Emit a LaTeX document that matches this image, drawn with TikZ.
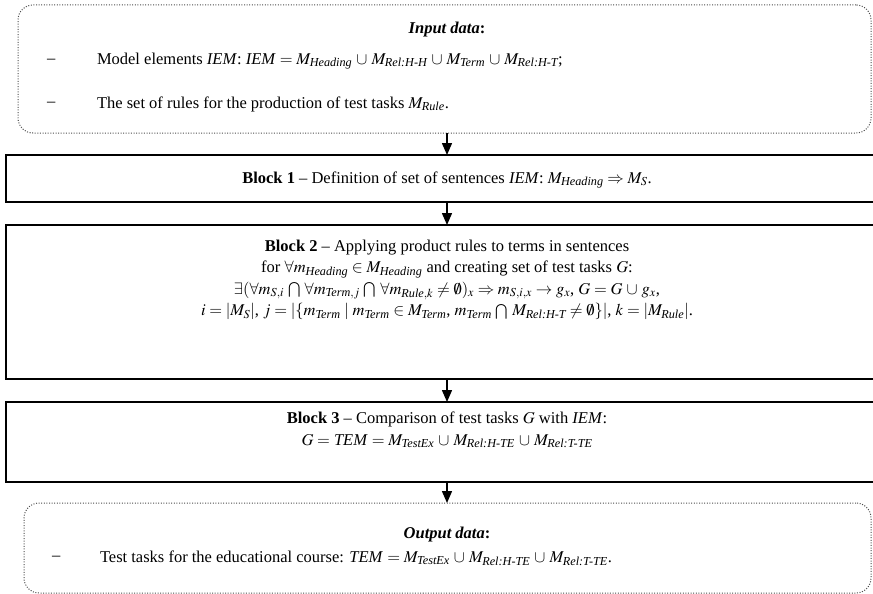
\documentclass[tikz,border=0pt]{standalone}
\usepackage{amsmath}
\usepackage{mathptmx}
\usepackage{fontspec}
\setmainfont{Liberation Serif}
\usetikzlibrary{arrows.meta}
\newcommand{\sub}[1]{\textit{#1}}
\newcommand{\un}{\mathbin{\,\cup\,}}
\newcommand{\bcap}{\mathbin{\,\bigcap\,}}
\begin{document}
\begin{tikzpicture}[x=1pt,y=-1pt,
  every node/.style={font=\fontsize{16.5}{21.5}\selectfont, inner sep=0pt, outer sep=0pt},
  databox/.style={draw=black!70, line width=1pt, dash pattern=on 1pt off 1.6pt, rounded corners=15pt},
  blockbox/.style={draw=black, line width=2.6pt},
  txt/.style={align=center},
  flow/.style={line width=1.5pt, -{Triangle[length=12pt,width=10pt]}}]
\useasboundingbox (0,0) rectangle (873,594);
% boxes
\node[databox, minimum width=853pt, minimum height=128pt] (inp) at (444.5,69) {};
\node[blockbox, minimum width=882pt, minimum height=47pt] (b1) at (447,178.5) {};
\node[blockbox, minimum width=882pt, minimum height=154pt] (b2) at (447,302) {};
\node[blockbox, minimum width=882pt, minimum height=80pt] (b3) at (447,442) {};
\node[databox, minimum width=847pt, minimum height=90pt] (out) at (447.5,548) {};
% input text
\node (inT) at (447,30) {\textbf{\textit{Input data}:}};
\node[anchor=west] (inD1) at (47,61) {--};
\node[anchor=west] (inL1) at (97,61) {Model elements \textit{IEM}: \textit{IEM} $= M_{\sub{Heading}} \un M_{\sub{Rel:H-H}} \un M_{\sub{Term}} \un M_{\sub{Rel:H-T}}$;};
\node[anchor=west] (inD2) at (47,104) {--};
\node[anchor=west] (inL2) at (97,104) {The set of rules for the production of test tasks $M_{\sub{Rule}}$.};
% block texts
\node[txt] (t1) at (447,180) {\textbf{Block 1} -- Definition of set of sentences \textit{IEM}: $M_{\sub{Heading}} \Rightarrow M_{S}$.};
\node[txt] (t2) at (447,280) {\textbf{Block 2} -- Applying product rules to terms in sentences\\
for $\forall m_{\sub{Heading}} \in M_{\sub{Heading}}$ and creating set of test tasks $G$:\\
$\exists(\forall m_{S,i} \bcap \forall m_{\sub{Term},j} \bcap \forall m_{\sub{Rule},k} \neq \emptyset)_x \Rightarrow m_{S,i,x} \rightarrow g_x$, $G = G \un g_x$,\\
$i = |M_S|$, $j = |\{m_{\sub{Term}} \mid m_{\sub{Term}} \in M_{\sub{Term}}$, $m_{\sub{Term}} \bcap M_{\sub{Rel:H-T}} \neq \emptyset\}|$, $k = |M_{\sub{Rule}}|$.};
\node[txt] (t3) at (447,430) {\textbf{Block 3} -- Comparison of test tasks $G$ with \textit{IEM}:\\
$G =$ \textit{TEM} $= M_{\sub{TestEx}} \un M_{\sub{Rel:H-TE}} \un M_{\sub{Rel:T-TE}}$};
% output text
\node (outT) at (447,535) {\textbf{\textit{Output data}:}};
\node[anchor=west] (outD) at (52,558) {--};
\node[anchor=west] (outL) at (100,558) {Test tasks for the educational course: \textit{TEM} $= M_{\sub{TestEx}} \un M_{\sub{Rel:H-TE}} \un M_{\sub{Rel:T-TE}}$.};
% arrows
\draw[flow] (inp.south -| t1.center) -- (b1.north);
\draw[flow] (b1) -- (b2);
\draw[flow] (b2) -- (b3);
\draw[flow] (b3.south) -- (out.north -| b3.south);
\end{tikzpicture}
\end{document}
